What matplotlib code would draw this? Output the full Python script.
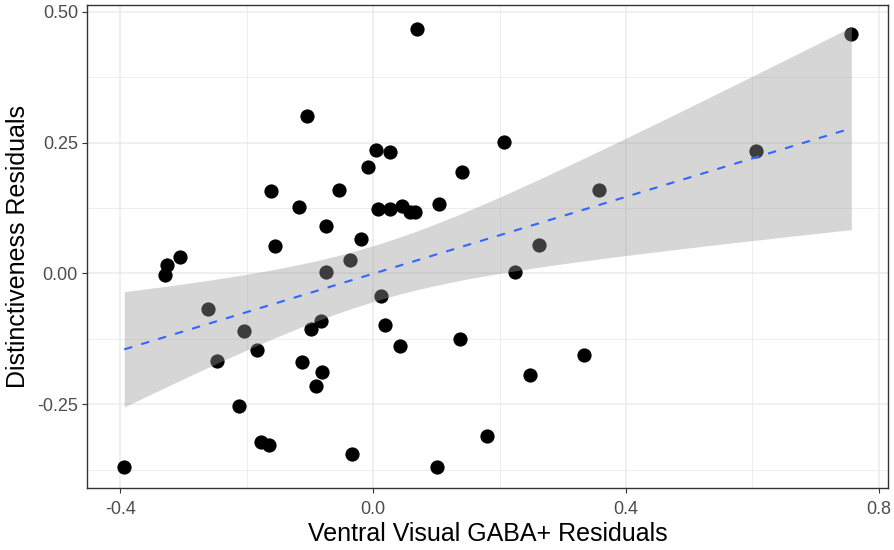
import numpy as np
import matplotlib.pyplot as plt
from matplotlib.ticker import MultipleLocator

# residuals
gaba = [-0.394, -0.329, -0.326, -0.306, -0.261, -0.247, -0.212, -0.204, -0.184, -0.178,
        -0.165, -0.161, -0.155, -0.118, -0.112, -0.104, -0.098, -0.090, -0.082, -0.081,
        -0.075, -0.075, -0.054, -0.036, -0.034, -0.020, -0.008, 0.005, 0.008, 0.013,
        0.019, 0.026, 0.027, 0.042, 0.045, 0.058, 0.066, 0.070, 0.101, 0.104,
        0.137, 0.141, 0.180, 0.207, 0.225, 0.248, 0.262, 0.333, 0.358, 0.606, 0.757]
dist = [-0.369, -0.002, 0.017, 0.031, -0.068, -0.167, -0.253, -0.109, -0.146, -0.322,
        -0.328, 0.157, 0.053, 0.127, -0.169, 0.300, -0.107, -0.216, -0.090, -0.189,
        0.090, 0.003, 0.160, 0.026, -0.345, 0.065, 0.204, 0.236, 0.123, -0.043,
        -0.098, 0.123, 0.233, -0.139, 0.128, 0.117, 0.118, 0.467, -0.369, 0.133,
        -0.125, 0.194, -0.310, 0.251, 0.003, -0.194, 0.054, -0.155, 0.160, 0.234, 0.458]

x = np.array(gaba)
y = np.array(dist)

# linear fit + 95% confidence band (like geom_smooth(method="lm"))
n = len(x)
b, a = np.polyfit(x, y, 1)
resid = y - (a + b * x)
s = np.sqrt(np.sum(resid ** 2) / (n - 2))
xs = np.linspace(x.min(), x.max(), 80)
yfit = a + b * xs
se = s * np.sqrt(1 / n + (xs - x.mean()) ** 2 / np.sum((x - x.mean()) ** 2))
tcrit = 2.0096

plt.rcParams['font.family'] = ['Liberation Sans', 'DejaVu Sans']

fig = plt.figure(figsize=(8.94, 5.5), dpi=100)
ax = fig.add_axes([0.0973, 0.1127, 0.896, 0.8782])

ax.scatter(x, y, s=105, color='black', zorder=2, linewidths=0)
ax.fill_between(xs, yfit - tcrit * se, yfit + tcrit * se, color='#999999', alpha=0.4,
                linewidth=0, zorder=3)
ax.plot(xs, yfit, color='#3366FF', lw=1.5, ls=(0, (4, 4.5)), zorder=4)

ax.set_xlim(-0.453, 0.815)
ax.set_ylim(-0.410, 0.513)
ax.xaxis.set_major_locator(MultipleLocator(0.4))
ax.xaxis.set_minor_locator(MultipleLocator(0.2))
ax.yaxis.set_major_locator(MultipleLocator(0.25))
ax.yaxis.set_minor_locator(MultipleLocator(0.125))
ax.xaxis.set_major_formatter(plt.FuncFormatter(lambda v, p: f"{v:.1f}"))
ax.yaxis.set_major_formatter(plt.FuncFormatter(lambda v, p: f"{v:.2f}"))

ax.grid(which='major', color='#EBEBEB', lw=1.1, zorder=0)
ax.grid(which='minor', color='#EBEBEB', lw=0.6, zorder=0)
ax.set_axisbelow(True)
ax.tick_params(which='minor', length=0)
ax.tick_params(which='major', length=3.5, width=0.8, color='#333333',
               labelcolor='#4D4D4D', labelsize=13, pad=3)
ax.tick_params(axis='x', pad=6)
for sp in ax.spines.values():
    sp.set_color('#333333')
    sp.set_linewidth(1.0)

ax.set_xlabel('Ventral Visual GABA+ Residuals', fontsize=18, color='black', labelpad=3)
ax.set_ylabel('Distinctiveness Residuals', fontsize=18, color='black', labelpad=5)

fig.savefig('out.png', dpi=100)
